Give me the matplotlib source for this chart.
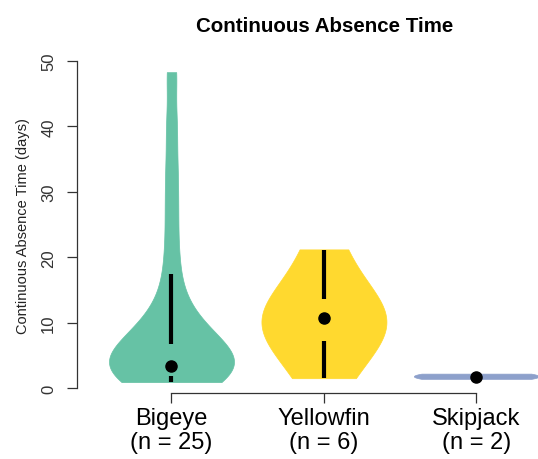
import numpy as np
import matplotlib
matplotlib.use("Agg")
import matplotlib.pyplot as plt

plt.rcParams["font.family"] = ["Liberation Sans", "DejaVu Sans"]

# ── Data ────────────────────────────────────────────────────────
species = ["Bigeye", "Yellowfin", "Skipjack"]
n_obs = [25, 6, 2]

bigeye_days = [0.9, 1.1, 1.4, 1.7, 2.0, 2.4, 2.8, 3.2, 3.6, 4.0, 4.6, 5.2,
               5.8, 6.5, 7.2, 8.0, 9.0, 10.5, 12.5, 16.0, 21.0, 27.0, 33.0,
               40.0, 48.3]
yellowfin_days = [1.5, 8.0, 10.5, 11.0, 12.0, 21.2]
skipjack_days = [1.4, 2.2]

# kde bandwidth factor per species
bw_factor = [0.29, 0.88, 1.0]

# summary marks: lower whisker, q1, median, q3, upper whisker
whisk_lo = [0.9, 1.5, 1.4]
q1 = [1.8, 7.2, 1.6]
medians = [3.3, 10.7, 1.75]
q3 = [6.7, 13.6, 2.0]
whisk_hi = [17.4, 21.1, 2.2]

COLORS = ["#66C2A5", "#FFD92F", "#8DA0CB"]

# ── Plot ───────────────────────────────────────────────────────
fig = plt.figure(figsize=(5.38, 4.6), dpi=100)
ax = fig.add_axes([0.1431, 0.1435, 0.918, 0.728])

positions = [1, 2, 3]
all_days = [bigeye_days, yellowfin_days, skipjack_days]
for data, pos, bw, col in zip(all_days, positions, bw_factor, COLORS):
    parts = ax.violinplot([data], positions=[pos], widths=0.82,
                          showextrema=False, showmedians=False,
                          bw_method=bw, points=300)
    for body in parts["bodies"]:
        body.set_facecolor(col)
        body.set_edgecolor(col)
        body.set_linewidth(0.5)
        body.set_alpha(1)

for i, x in enumerate(positions):
    if q1[i] > whisk_lo[i]:
        ax.plot([x, x], [whisk_lo[i], q1[i]], color="black", lw=3,
                solid_capstyle="butt", zorder=3)
    if whisk_hi[i] > q3[i]:
        ax.plot([x, x], [q3[i], whisk_hi[i]], color="black", lw=3,
                solid_capstyle="butt", zorder=3)
    ax.plot(x, medians[i], "o", color="black", ms=8, zorder=4)

ax.set_xlim(0.38, 3.62)
ax.set_ylim(-0.76, 50.45)

ax.spines["top"].set_visible(False)
ax.spines["right"].set_visible(False)
ax.spines["left"].set_bounds(0, 50)
ax.spines["bottom"].set_bounds(1, 3)
for s in ["left", "bottom"]:
    ax.spines[s].set_color("#333333")
    ax.spines[s].set_linewidth(0.9)

ax.set_yticks([0, 10, 20, 30, 40, 50])
ax.set_yticklabels(["0", "10", "20", "30", "40", "50"], rotation=90,
                   va="center", fontsize=12, color="#333333")
ax.set_xticks(positions)
ax.set_xticklabels([f"{s}\n(n = {n})" for s, n in zip(species, n_obs)],
                   fontsize=17, linespacing=1.15)
ax.tick_params(axis="y", length=7, width=0.9, color="#333333", pad=8)
ax.tick_params(axis="x", length=7, width=0.9, color="#333333", pad=3)

ax.set_ylabel("Continuous Absence Time (days)", fontsize=10.5,
              color="#222222", labelpad=8)
fig.text(0.604, 0.942, "Continuous Absence Time", ha="center", va="center",
         fontsize=14.8, fontweight="bold")

plt.savefig("out.png", dpi=100)
plt.close()
